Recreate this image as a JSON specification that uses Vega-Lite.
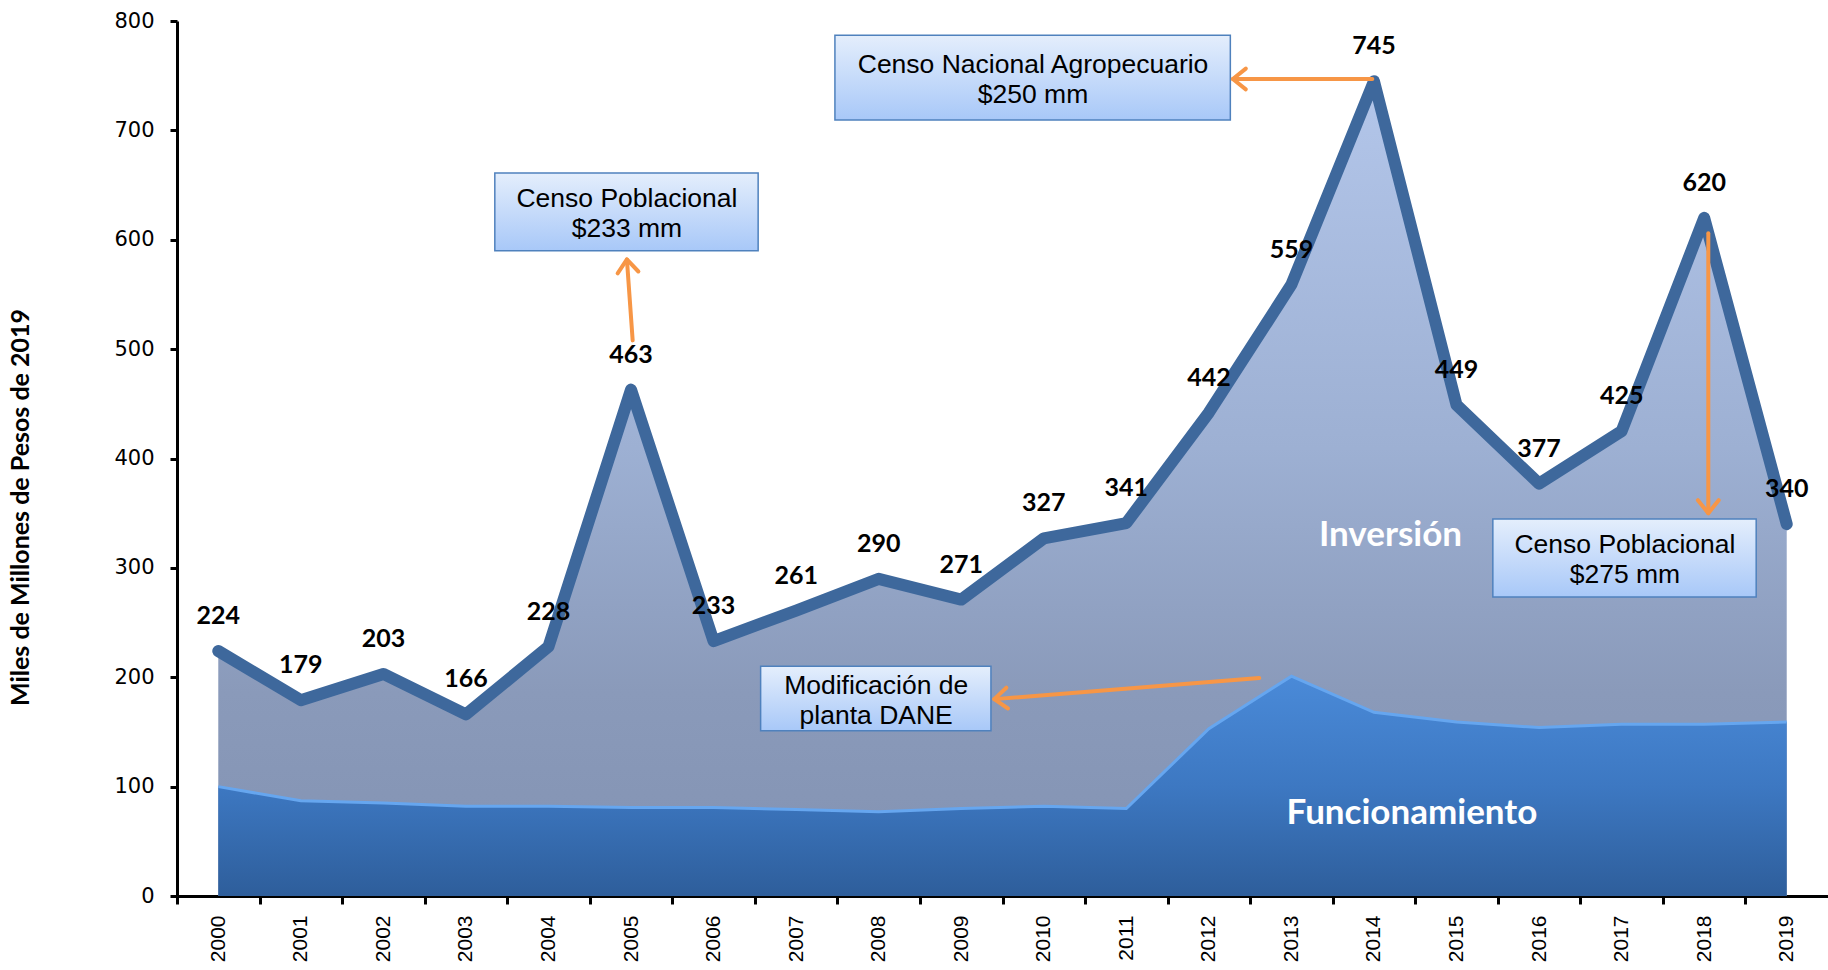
{
  "$schema": "https://vega.github.io/schema/vega-lite/v6.json",
  "width": 1651,
  "height": 875,
  "autosize": "none",
  "padding": {"left": 177, "top": 21, "right": 0, "bottom": 74},
  "background": "white",
  "config": {"view": {"stroke": null}},
  "datasets": {
    "main": [
      {"year": 2000, "total": 224, "func": 100},
      {"year": 2001, "total": 179, "func": 87},
      {"year": 2002, "total": 203, "func": 85},
      {"year": 2003, "total": 166, "func": 82},
      {"year": 2004, "total": 228, "func": 82},
      {"year": 2005, "total": 463, "func": 81},
      {"year": 2006, "total": 233, "func": 81},
      {"year": 2007, "total": 261, "func": 79},
      {"year": 2008, "total": 290, "func": 77},
      {"year": 2009, "total": 271, "func": 80},
      {"year": 2010, "total": 327, "func": 82},
      {"year": 2011, "total": 341, "func": 80},
      {"year": 2012, "total": 442, "func": 153},
      {"year": 2013, "total": 559, "func": 201},
      {"year": 2014, "total": 745, "func": 168},
      {"year": 2015, "total": 449, "func": 159},
      {"year": 2016, "total": 377, "func": 154},
      {"year": 2017, "total": 425, "func": 157},
      {"year": 2018, "total": 620, "func": 157},
      {"year": 2019, "total": 340, "func": 159}
    ],
    "boxes": [
      {"label": "Censo Poblacional\n$233 mm", "x1": 2003.35, "x2": 2006.54, "y1": 590, "y2": 661, "xm": 2004.95, "ym": 625.5},
      {"label": "Censo Nacional Agropecuario\n$250 mm", "x1": 2007.47, "x2": 2012.26, "y1": 709.5, "y2": 787, "xm": 2009.87, "ym": 748},
      {"label": "Censo Poblacional\n$275 mm", "x1": 2015.44, "x2": 2018.63, "y1": 273.4, "y2": 344.7, "xm": 2017.04, "ym": 309},
      {"label": "Modificación de\nplanta DANE", "x1": 2006.57, "x2": 2009.36, "y1": 151, "y2": 210, "xm": 2007.97, "ym": 180.5}
    ],
    "arrows": [
      {"id": "a1", "xa": 2005.02, "ya": 508, "xb": 2004.95, "yb": 582},
      {"id": "a2", "xa": 2013.98, "ya": 747, "xb": 2012.29, "yb": 747},
      {"id": "a3", "xa": 2018.05, "ya": 606, "xb": 2018.05, "yb": 350},
      {"id": "a4", "xa": 2012.61, "ya": 199.3, "xb": 2009.40, "yb": 180}
    ],
    "tags": [
      {"label": "Inversión", "x": 2014.2, "y": 330},
      {"label": "Funcionamiento", "x": 2014.46, "y": 76}
    ]
  },
  "layer": [
    {
      "data": {"name": "main"},
      "mark": {
        "type": "area",
        "color": {
          "gradient": "linear", "x1": 0, "y1": 0, "x2": 0, "y2": 1,
          "stops": [
            {"offset": 0, "color": "#b3c6ea"},
            {"offset": 0.45, "color": "#9db0d3"},
            {"offset": 0.75, "color": "#8a9aba"},
            {"offset": 1, "color": "#8292b2"}
          ]
        }
      },
      "encoding": {
        "x": {
          "field": "year", "type": "quantitative",
          "scale": {"domain": [1999.5, 2019.5], "nice": false, "zero": false},
          "axis": {
            "values": [2000, 2001, 2002, 2003, 2004, 2005, 2006, 2007, 2008, 2009, 2010, 2011, 2012, 2013, 2014, 2015, 2016, 2017, 2018, 2019],
            "format": "d",
            "title": null,
            "grid": false,
            "labelAngle": -90,
            "labelFont": "Liberation Sans",
            "labelFontSize": 21,
            "labelColor": "#000000",
            "labelPadding": 11,
            "tickOffset": -41.275,
            "labelOffset": 41.275,
            "tickSize": 8,
            "tickWidth": 3,
            "tickColor": "#000000",
            "domainColor": "#000000",
            "domainWidth": 3,
            "labelFlush": false,
            "labelOverlap": false
          }
        },
        "y": {
          "field": "total", "type": "quantitative",
          "scale": {"domain": [0, 800], "nice": false},
          "axis": {
            "values": [0, 100, 200, 300, 400, 500, 600, 700, 800],
            "title": "Miles de Millones  de Pesos de 2019",
            "titleFont": "Lato",
            "titleFontSize": 25,
            "titleFontWeight": "bold",
            "titleColor": "#000000",
            "titleX": -157,
            "titleY": 486,
            "titleBaseline": "middle",
            "titleAlign": "center",
            "grid": false,
            "labelFont": "DejaVu Sans",
            "labelFontSize": 21,
            "labelColor": "#000000",
            "labelPadding": 16,
            "tickSize": 7,
            "tickWidth": 3,
            "tickColor": "#000000",
            "domainColor": "#000000",
            "domainWidth": 3,
            "labelFlush": false
          }
        }
      }
    },
    {
      "data": {"name": "main"},
      "mark": {
        "type": "area",
        "color": {
          "gradient": "linear", "x1": 0, "y1": 0, "x2": 0, "y2": 1,
          "stops": [
            {"offset": 0, "color": "#4a8ad8"},
            {"offset": 0.5, "color": "#3d78c2"},
            {"offset": 1, "color": "#2e5e9b"}
          ]
        }
      },
      "encoding": {
        "x": {"field": "year", "type": "quantitative"},
        "y": {"field": "func", "type": "quantitative"}
      }
    },
    {
      "data": {"name": "main"},
      "mark": {"type": "line", "color": "#66a6ef", "strokeWidth": 3},
      "encoding": {
        "x": {"field": "year", "type": "quantitative"},
        "y": {"field": "func", "type": "quantitative"}
      }
    },
    {
      "data": {"name": "main"},
      "mark": {"type": "line", "color": "#3e689c", "strokeWidth": 12, "strokeJoin": "round", "strokeCap": "round"},
      "encoding": {
        "x": {"field": "year", "type": "quantitative"},
        "y": {"field": "total", "type": "quantitative"}
      }
    },
    {
      "data": {"name": "main"},
      "mark": {"type": "text", "font": "Lato", "fontSize": 25, "fontWeight": "bold", "color": "#000000", "dy": -35, "align": "center", "baseline": "middle"},
      "encoding": {
        "x": {"field": "year", "type": "quantitative"},
        "y": {"field": "total", "type": "quantitative"},
        "text": {"field": "total", "type": "quantitative"}
      }
    },
    {
      "data": {"name": "boxes"},
      "mark": {
        "type": "rect",
        "stroke": "#4f81bd",
        "strokeWidth": 1.5,
        "color": {
          "gradient": "linear", "x1": 0, "y1": 0, "x2": 0, "y2": 1,
          "stops": [
            {"offset": 0, "color": "#e4eefc"},
            {"offset": 1, "color": "#a8c8f8"}
          ]
        }
      },
      "encoding": {
        "x": {"field": "x1", "type": "quantitative"},
        "x2": {"field": "x2"},
        "y": {"field": "y1", "type": "quantitative"},
        "y2": {"field": "y2"}
      }
    },
    {
      "data": {"name": "boxes"},
      "mark": {"type": "text", "font": "Liberation Sans", "fontSize": 26.5, "color": "#000000", "lineBreak": "\n", "lineHeight": 30, "align": "center", "baseline": "middle", "dy": -13},
      "encoding": {
        "x": {"field": "xm", "type": "quantitative"},
        "y": {"field": "ym", "type": "quantitative"},
        "text": {"field": "label"}
      }
    },
    {
      "data": {"name": "arrows"},
      "mark": {"type": "rule", "color": "#f79646", "strokeWidth": 4, "strokeCap": "round"},
      "encoding": {
        "x": {"field": "xa", "type": "quantitative"},
        "x2": {"field": "xb"},
        "y": {"field": "ya", "type": "quantitative"},
        "y2": {"field": "yb"}
      }
    },
    {
      "data": {"name": "arrows"},
      "transform": [{"filter": "datum.id === 'a1'"}],
      "mark": {"type": "point", "shape": "M -1 -0.8 L 0 0 L -1 0.8", "filled": false, "stroke": "#f79646", "strokeWidth": 4, "strokeCap": "round", "strokeJoin": "round", "size": 676, "angle": -94.9, "opacity": 1},
      "encoding": {
        "x": {"field": "xb", "type": "quantitative"},
        "y": {"field": "yb", "type": "quantitative"}
      }
    },
    {
      "data": {"name": "arrows"},
      "transform": [{"filter": "datum.id === 'a2'"}],
      "mark": {"type": "point", "shape": "M -1 -0.8 L 0 0 L -1 0.8", "filled": false, "stroke": "#f79646", "strokeWidth": 4, "strokeCap": "round", "strokeJoin": "round", "size": 676, "angle": 180, "opacity": 1},
      "encoding": {
        "x": {"field": "xb", "type": "quantitative"},
        "y": {"field": "yb", "type": "quantitative"}
      }
    },
    {
      "data": {"name": "arrows"},
      "transform": [{"filter": "datum.id === 'a3'"}],
      "mark": {"type": "point", "shape": "M -1 -0.8 L 0 0 L -1 0.8", "filled": false, "stroke": "#f79646", "strokeWidth": 4, "strokeCap": "round", "strokeJoin": "round", "size": 676, "angle": 90, "opacity": 1},
      "encoding": {
        "x": {"field": "xb", "type": "quantitative"},
        "y": {"field": "yb", "type": "quantitative"}
      }
    },
    {
      "data": {"name": "arrows"},
      "transform": [{"filter": "datum.id === 'a4'"}],
      "mark": {"type": "point", "shape": "M -1 -0.8 L 0 0 L -1 0.8", "filled": false, "stroke": "#f79646", "strokeWidth": 4, "strokeCap": "round", "strokeJoin": "round", "size": 676, "angle": 175.5, "opacity": 1},
      "encoding": {
        "x": {"field": "xb", "type": "quantitative"},
        "y": {"field": "yb", "type": "quantitative"}
      }
    },
    {
      "data": {"name": "tags"},
      "mark": {"type": "text", "font": "Lato", "fontSize": 35, "fontWeight": "bold", "color": "#ffffff", "align": "center", "baseline": "middle"},
      "encoding": {
        "x": {"field": "x", "type": "quantitative"},
        "y": {"field": "y", "type": "quantitative"},
        "text": {"field": "label"}
      }
    }
  ]
}
